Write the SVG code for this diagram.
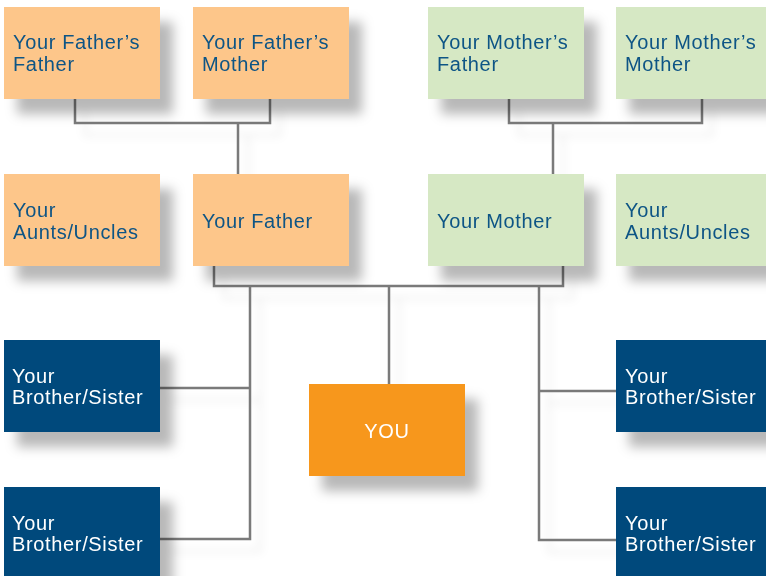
<svg xmlns="http://www.w3.org/2000/svg" width="766" height="576" viewBox="0 0 766 576">
<style>
.t{font-family:"Liberation Sans",Arial,sans-serif;font-size:20px;letter-spacing:0.65px;fill:#0e5485}
.w{fill:#ffffff}
.peach{fill:#fdc68a}
.green{fill:#d6e8c4}
.blue{fill:#004a7c}
.you{fill:#f7971e}
.ln{fill:none;stroke:#7a7a7a;stroke-width:2.5}
</style>
<defs>
<filter id="sh" x="-20%" y="-20%" width="150%" height="160%">
<feDropShadow dx="13" dy="15" stdDeviation="6" flood-color="#000" flood-opacity="0.28"/>
</filter>
<filter id="lsh" x="-20%" y="-20%" width="150%" height="150%">
<feDropShadow dx="10" dy="12" stdDeviation="4" flood-color="#000" flood-opacity="0.08"/>
</filter>
</defs>
<rect width="766" height="576" fill="#ffffff"/>
<g id="connectors" filter="url(#lsh)">
<path class="ln" d="M75 99V123H270V99M238 123V174"/>
<path class="ln" d="M509 99V123H702V99M553 123V174"/>
<path class="ln" d="M214 266V286H563V266M250 286V539H160M250 388H160M389 286V384M539 286V540H616M539 391H616"/>
</g>
<g filter="url(#sh)">
<g id="ff"><rect class="peach" x="4" y="7" width="156" height="92"/><text class="t"><tspan x="13" y="49">Your Father’s</tspan><tspan x="13" y="71">Father</tspan></text></g>
<g id="fm"><rect class="peach" x="193" y="7" width="156" height="92"/><text class="t"><tspan x="202" y="49">Your Father’s</tspan><tspan x="202" y="71">Mother</tspan></text></g>
<g id="mf"><rect class="green" x="428" y="7" width="156" height="92"/><text class="t"><tspan x="437" y="49">Your Mother’s</tspan><tspan x="437" y="71">Father</tspan></text></g>
<g id="mm"><rect class="green" x="616" y="7" width="156" height="92"/><text class="t"><tspan x="625" y="49">Your Mother’s</tspan><tspan x="625" y="71">Mother</tspan></text></g>
<g id="aunts-left"><rect class="peach" x="4" y="174" width="156" height="92"/><text class="t"><tspan x="13" y="217">Your</tspan><tspan x="13" y="239">Aunts/Uncles</tspan></text></g>
<g id="father"><rect class="peach" x="193" y="174" width="156" height="92"/><text class="t" x="202" y="228">Your Father</text></g>
<g id="mother"><rect class="green" x="428" y="174" width="156" height="92"/><text class="t" x="437" y="228">Your Mother</text></g>
<g id="aunts-right"><rect class="green" x="616" y="174" width="156" height="92"/><text class="t"><tspan x="625" y="217">Your</tspan><tspan x="625" y="239">Aunts/Uncles</tspan></text></g>
<g id="sib-left-1"><rect class="blue" x="4" y="340" width="156" height="92"/><text class="t w"><tspan x="12" y="383">Your</tspan><tspan x="12" y="404">Brother/Sister</tspan></text></g>
<g id="sib-left-2"><rect class="blue" x="4" y="487" width="156" height="92"/><text class="t w"><tspan x="12" y="530">Your</tspan><tspan x="12" y="551">Brother/Sister</tspan></text></g>
<g id="you"><rect class="you" x="309" y="384" width="156" height="92"/><text class="t w" x="387" y="438" text-anchor="middle">YOU</text></g>
<g id="sib-right-1"><rect class="blue" x="616" y="340" width="156" height="92"/><text class="t w"><tspan x="625" y="383">Your</tspan><tspan x="625" y="404">Brother/Sister</tspan></text></g>
<g id="sib-right-2"><rect class="blue" x="616" y="487" width="156" height="92"/><text class="t w"><tspan x="625" y="530">Your</tspan><tspan x="625" y="551">Brother/Sister</tspan></text></g>
</g>
</svg>
